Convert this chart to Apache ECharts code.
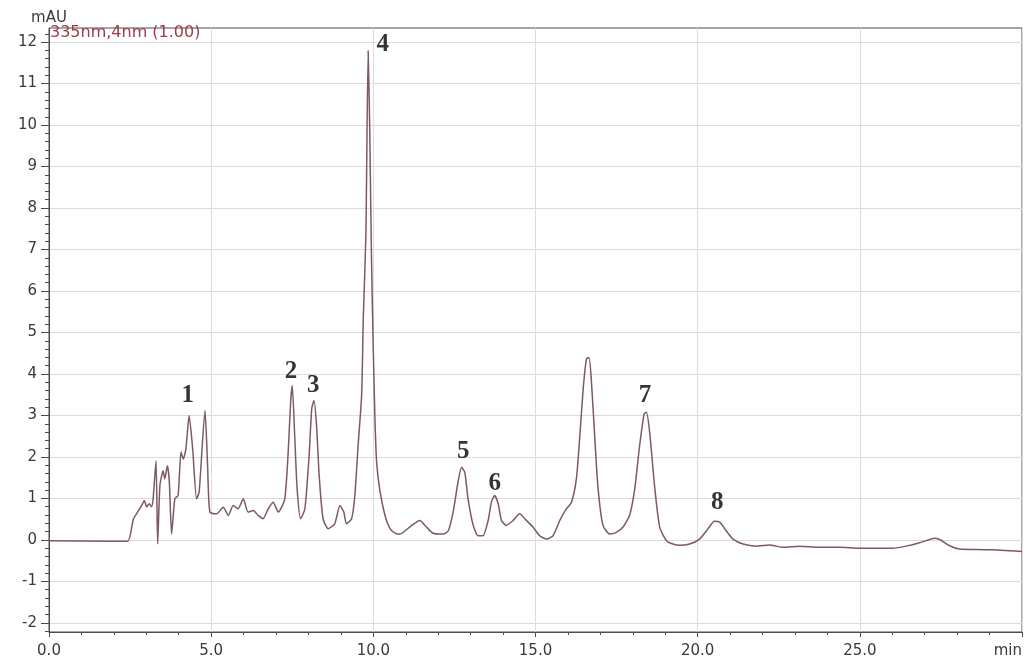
<!DOCTYPE html>
<html><head><meta charset="utf-8">
<script src="https://cdn.jsdelivr.net/npm/echarts@6/dist/echarts.min.js"></script>
<style>html,body{margin:0;padding:0;background:#fff}#chart{width:1026px;height:660px}</style>
</head><body><div id="chart"></div>
<script>
// Retention time (min) and absorbance (mAU)
const retentionTimes = [
  0.00, 2.00, 2.43, 2.60, 2.70, 2.86, 2.94, 3.01, 3.09, 3.16, 3.21, 3.30, 3.35, 3.42, 3.52, 3.57, 3.65, 3.71, 3.78, 3.88,
  3.98, 4.07, 4.14, 4.22, 4.32, 4.43, 4.55, 4.63, 4.81, 4.89, 4.96, 5.17, 5.37, 5.53, 5.68, 5.83, 5.99, 6.14, 6.30, 6.45,
  6.60, 6.76, 6.91, 7.07, 7.27, 7.38, 7.45, 7.50, 7.58, 7.65, 7.76, 7.89, 8.02, 8.10, 8.17, 8.25, 8.33, 8.45, 8.61, 8.81,
  8.97, 9.09, 9.17, 9.33, 9.43, 9.53, 9.64, 9.69, 9.77, 9.84, 9.89, 9.94, 10.00, 10.05, 10.10, 10.20, 10.35, 10.51, 10.70, 10.82,
  11.12, 11.43, 11.64, 11.84, 12.15, 12.31, 12.46, 12.61, 12.72, 12.82, 12.92, 13.08, 13.23, 13.38, 13.54, 13.64, 13.74, 13.85, 13.95, 14.10,
  14.31, 14.51, 14.72, 14.92, 15.13, 15.34, 15.54, 15.75, 15.95, 16.11, 16.26, 16.36, 16.47, 16.57, 16.65, 16.72, 16.83, 16.93, 17.08, 17.29,
  17.49, 17.70, 17.90, 18.06, 18.21, 18.35, 18.42, 18.52, 18.67, 18.83, 19.04, 19.24, 19.45, 19.75, 20.06, 20.32, 20.52, 20.68, 20.88, 21.09,
  21.40, 21.81, 22.22, 22.63, 23.14, 23.76, 24.38, 24.99, 25.51, 26.02, 26.43, 26.84, 27.15, 27.30, 27.46, 27.77, 28.07, 28.59, 29.10, 29.61,
  30.00
];
const absorbance = [
  -0.02, -0.03, -0.03, 0.50, 0.63, 0.83, 0.95, 0.80, 0.87, 0.80, 0.99, 1.91, -0.10, 1.31, 1.67, 1.47, 1.79, 1.40, 0.14, 0.99,
  1.07, 2.12, 1.95, 2.19, 3.00, 2.19, 0.99, 1.16, 3.12, 1.79, 0.67, 0.63, 0.79, 0.59, 0.83, 0.75, 0.99, 0.67, 0.71, 0.59,
  0.51, 0.75, 0.91, 0.67, 0.99, 2.19, 3.32, 3.72, 2.43, 1.23, 0.51, 0.75, 2.03, 3.16, 3.36, 2.75, 1.55, 0.51, 0.27, 0.39,
  0.83, 0.67, 0.39, 0.51, 1.07, 2.27, 3.50, 5.33, 7.33, 11.79, 9.83, 6.94, 4.53, 2.92, 1.88, 1.20, 0.62, 0.28, 0.15, 0.14,
  0.31, 0.47, 0.31, 0.16, 0.14, 0.22, 0.67, 1.39, 1.75, 1.63, 0.99, 0.35, 0.10, 0.10, 0.47, 0.91, 1.07, 0.87, 0.47, 0.35,
  0.47, 0.63, 0.47, 0.31, 0.10, 0.02, 0.10, 0.47, 0.75, 0.91, 1.47, 2.43, 3.64, 4.36, 4.40, 3.88, 2.43, 1.23, 0.35, 0.14,
  0.18, 0.31, 0.59, 1.23, 2.27, 3.04, 3.08, 2.60, 1.31, 0.30, -0.02, -0.10, -0.13, -0.10, 0.02, 0.27, 0.45, 0.43, 0.22, 0.02,
  -0.10, -0.15, -0.12, -0.18, -0.15, -0.18, -0.18, -0.20, -0.20, -0.20, -0.15, -0.07, 0.01, 0.04, 0.01, -0.14, -0.22, -0.23, -0.24, -0.26,
  -0.28
];

const xTicks = [0, 5, 10, 15, 20, 25, 30];
const xTickLabels = ['0.0', '5.0', '10.0', '15.0', '20.0', '25.0', 'min'];
const yTicks = [-2, -1, 0, 1, 2, 3, 4, 5, 6, 7, 8, 9, 10, 11, 12];

const peakNames = ['1', '2', '3', '4', '5', '6', '7', '8'];
const peakLabelTimes = [4.28, 7.46, 8.15, 10.29, 12.77, 13.74, 18.38, 20.60];
const peakLabelValues = [3.47, 4.07, 3.72, 11.95, 2.14, 1.37, 3.47, 0.90];

const signalName = '335nm,4nm (1.00)';
const yUnit = 'mAU';

// minor y ticks (5 subdivisions per unit)
const yMinorTicks = [-2.2];
for (let i = 0; i < yTicks.length - 1; i++) {
  for (let k = 1; k < 5; k++) yMinorTicks.push(+(yTicks[i] + k * (yTicks[i + 1] - yTicks[i]) / 5).toFixed(2));
}
yMinorTicks.push(12.2);

const axisColor = '#4d4d4d';
const labelColor = '#3a3a3a';
const gridColor = '#dcdcdc';
const labelFont = 'DejaVu Sans';

const chart = echarts.init(document.getElementById('chart'), null, { renderer: 'canvas' });
chart.setOption({
  animation: false,
  backgroundColor: '#ffffff',
  title: {
    text: signalName,
    left: 50, top: 25, padding: 0,
    textStyle: { color: '#a03c4a', fontFamily: labelFont, fontSize: 16, fontWeight: 'normal' }
  },
  grid: { left: 49, right: 4, top: 28, bottom: 28, show: true, borderColor: axisColor, borderWidth: 1, backgroundColor: 'transparent' },
  xAxis: {
    type: 'value', min: 0, max: 30, interval: 5,
    axisLine: { show: true, onZero: false, lineStyle: { color: axisColor, width: 1 } },
    axisTick: { show: true, length: 5, lineStyle: { color: axisColor } },
    minorTick: { show: true, splitNumber: 5, length: 3, lineStyle: { color: axisColor } },
    splitLine: { show: true, lineStyle: { color: gridColor, width: 1 } },
    axisLabel: {
      showMinLabel: true, showMaxLabel: true, alignMinLabel: 'center', alignMaxLabel: 'right',
      formatter: function (v) { const i = xTicks.indexOf(v); return i >= 0 ? xTickLabels[i] : ''; },
      color: labelColor, fontFamily: labelFont, fontSize: 15, margin: 12
    }
  },
  yAxis: [{
    type: 'value', min: -2.22, max: 12.34, position: 'left',
    name: yUnit, nameLocation: 'end', nameGap: 2,
    nameTextStyle: { color: labelColor, fontFamily: labelFont, fontSize: 15, align: 'center' },
    axisLine: { show: true, onZero: false, lineStyle: { color: axisColor, width: 1 } },
    axisTick: { show: true, length: 8, customValues: yTicks, lineStyle: { color: axisColor } },
    axisLabel: {
      customValues: yTicks,
      formatter: function (v) { return String(Math.round(v)); },
      color: labelColor, fontFamily: labelFont, fontSize: 15, margin: 12
    },
    splitLine: { show: true, lineStyle: { color: gridColor, width: 1 } }
  }, {
    type: 'value', min: -2.22, max: 12.34, position: 'left',
    axisLine: { show: false },
    axisTick: { show: true, length: 4, customValues: yMinorTicks, lineStyle: { color: axisColor } },
    axisLabel: { show: false },
    splitLine: { show: false }
  }],
  series: [{
    type: 'line',
    name: signalName,
    data: retentionTimes.map(function (t, i) { return [t, absorbance[i]]; }),
    showSymbol: false,
    smooth: 0.2,
    lineStyle: { color: '#7d5a60', width: 1.5 },
    z: 3
  }, {
    type: 'scatter',
    data: peakLabelTimes.map(function (t, i) { return { value: [t, peakLabelValues[i]], name: peakNames[i] }; }),
    symbolSize: 0.01,
    itemStyle: { color: '#000000' },
    label: {
      show: true, position: 'inside', formatter: '{b}',
      fontFamily: 'Liberation Serif', fontWeight: 'bold', fontSize: 25, color: '#000000',
      textBorderWidth: 0
    },
    emphasis: { disabled: true },
    z: 4
  }]
});
</script>
</body></html>
